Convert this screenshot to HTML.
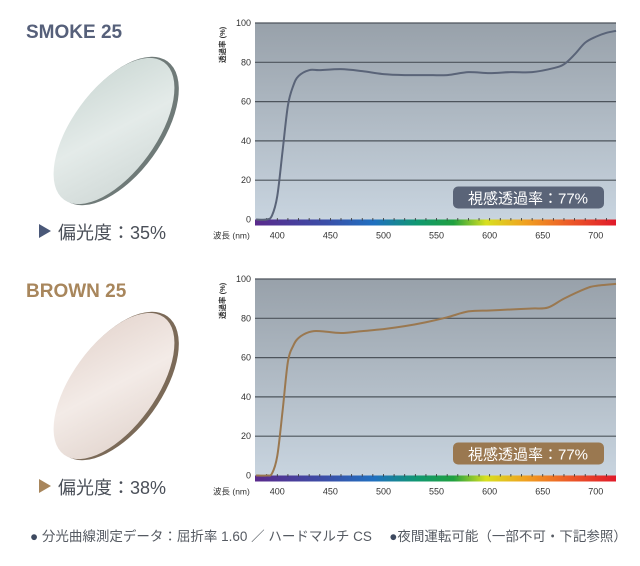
<!DOCTYPE html>
<html><head><meta charset="utf-8"><style>
body{margin:0;background:#fff;width:640px;height:566px;overflow:hidden;font-family:"Liberation Sans","Noto Sans CJK JP",sans-serif}
svg{position:absolute;left:0;top:0}
</style></head><body>
<svg id="s" width="640" height="566">
<defs>
<linearGradient id="bg" x1="0" y1="0" x2="0" y2="1"><stop offset="0" stop-color="#98a1aa"/><stop offset="1" stop-color="#c8d4df"/></linearGradient>
<linearGradient id="spec" x1="0" y1="0" x2="1" y2="0">
<stop offset="0" stop-color="#5a2a8c"/><stop offset="0.2" stop-color="#3a4fa8"/><stop offset="0.33" stop-color="#2070c0"/><stop offset="0.45" stop-color="#109870"/><stop offset="0.55" stop-color="#20a040"/><stop offset="0.64" stop-color="#d8e020"/><stop offset="0.75" stop-color="#f0a020"/><stop offset="0.87" stop-color="#ec5a28"/><stop offset="1" stop-color="#e01a2a"/></linearGradient>
<linearGradient id="lensS" x1="0" y1="0" x2="1" y2="1"><stop offset="0" stop-color="#c9d6d2"/><stop offset="0.5" stop-color="#e4ebe9"/><stop offset="1" stop-color="#cdd6d4"/></linearGradient>
<linearGradient id="lensB" x1="0" y1="0" x2="1" y2="1"><stop offset="0" stop-color="#e3d3cc"/><stop offset="0.5" stop-color="#f3ebe7"/><stop offset="1" stop-color="#e0d2cb"/></linearGradient>
</defs>
<g>
<text x="26" y="38" font-size="19" font-weight="bold" fill="#56607a">SMOKE 25</text>
<ellipse cx="117" cy="131" rx="44" ry="86" transform="rotate(36 117 131)" fill="#6f7a78"/>
<ellipse cx="114" cy="131" rx="42" ry="85" transform="rotate(36 114 131)" fill="url(#lensS)"/>
<polygon points="39,224 51,231 39,238" fill="#4a5878"/>
<text x="58" y="239" font-size="18" fill="#4a4f58">偏光度：35%</text>
</g>
<g>
<text x="26" y="297" font-size="19" font-weight="bold" fill="#a8865c">BROWN 25</text>
<ellipse cx="117" cy="386" rx="44" ry="86" transform="rotate(36 117 386)" fill="#7b6a58"/>
<ellipse cx="114" cy="386" rx="42" ry="85" transform="rotate(36 114 386)" fill="url(#lensB)"/>
<polygon points="39,479 51,486 39,493" fill="#a8865c"/>
<text x="58" y="494" font-size="18" fill="#4a4f58">偏光度：38%</text>
</g>
<text x="30" y="541" font-size="13.5" fill="#555a62"><tspan fill="#3e4a60">●</tspan> 分光曲線測定データ：屈折率 1.60 ／ ハードマルチ CS　 <tspan fill="#3e4a60">●</tspan>夜間運転可能（一部不可・下記参照）</text>
<g id="c1"></g><g id="c2"></g>
</svg>
<script>
const xTicks=[400,450,500,550,600,650,700];
const yTicks=[0,20,40,60,80,100];
const smokeWl=[380,390,395,400,405,410,415,420,430,440,460,480,500,520,540,560,580,600,620,640,660,670,680,690,700,710,719];
const smokeT=[0,0,2,12,35,58,68,73,76,76,76.5,75.5,74,73.5,73.5,73.5,75,74.5,75,75,77,79,84,90,93,95,96];
const brownWl=[380,390,395,400,405,410,415,420,430,440,460,480,500,520,540,560,580,600,620,640,655,670,690,700,719];
const brownT=[0,0,1,10,33,58,66,70,73,73.5,72.5,73.5,74.5,76,78,80.5,83.5,84,84.5,85,85.5,90,95,96.5,97.5];
const NS='http://www.w3.org/2000/svg';
function mk(t,a,p){const e=document.createElementNS(NS,t);for(const k in a)e.setAttribute(k,a[k]);p.appendChild(e);return e;}
function chart(g,top,wl,vals,color,pfx){
 const x0=255,x1=616,bot=top+196.5;
 const sx=w=>x0+(w-379)*(x1-x0)/(719-379);
 const sy=v=>bot-v*(bot-top)/100;
 let r=mk('rect',{x:x0,y:top,width:x1-x0,height:bot-top,fill:'url(#bg)'},g);
 
 
 yTicks.forEach(v=>{
  if(v>0){let l=mk('line',{x1:x0,x2:x1,y1:sy(v),y2:sy(v),stroke:'#4d545c','stroke-width':1.2},g);
  
  }
  let t=mk('text',{x:251,y:sy(v)+3,'font-size':9,'text-anchor':'end',fill:'#333'},g);t.textContent=v;
  
  
 });
 let sp=mk('rect',{x:x0,y:bot,width:x1-x0,height:6,fill:'url(#spec)'},g);
 
 
 for(let w=390;w<=710;w+=10){let tk=mk('line',{x1:sx(w),x2:sx(w),y1:bot-1.5,y2:bot+1,stroke:'#333','stroke-width':0.8},g);
  
  }
 xTicks.forEach(w=>{let t=mk('text',{x:sx(w),y:bot+19,'font-size':9,'text-anchor':'middle',fill:'#333'},g);t.textContent=w;
  
  });
 let xl=mk('text',{x:213,y:bot+19,'font-size':8.5,fill:'#333'},g);xl.textContent='波長 (nm)';
 
 
 let yl=mk('text',{x:0,y:0,'font-size':7.5,fill:'#333','font-weight':'bold',transform:`translate(225,${top+40}) rotate(-90)`},g);yl.textContent='透過率 (%)';
 
 
 const P=wl.map((w,i)=>[sx(w),sy(vals[i])]);
 let d='M'+P[0][0]+','+P[0][1];
 for(let i=0;i<P.length-1;i++){const p0=P[i-1]||P[i],p1=P[i],p2=P[i+1],p3=P[i+2]||p2;
  d+=` C${p1[0]+(p2[0]-p0[0])/6},${p1[1]+(p2[1]-p0[1])/6} ${p2[0]-(p3[0]-p1[0])/6},${p2[1]-(p3[1]-p1[1])/6} ${p2[0]},${p2[1]}`;}
 let ln=mk('path',{d:d,fill:'none',stroke:color,'stroke-width':2},g);
 
 
 let b=mk('rect',{x:453,y:bot-33,width:151,height:22,rx:5,fill:color},g);
 
 
 let bt=mk('text',{x:528,y:bot-16,'font-size':15,'text-anchor':'middle',fill:'#fff'},g);bt.textContent='視感透過率：77%';
 
 
}
chart(document.getElementById('c1'),23,smokeWl,smokeT,'#5a6478','smoke');
chart(document.getElementById('c2'),279,brownWl,brownT,'#9a7850','brown');
</script>
</body></html>
